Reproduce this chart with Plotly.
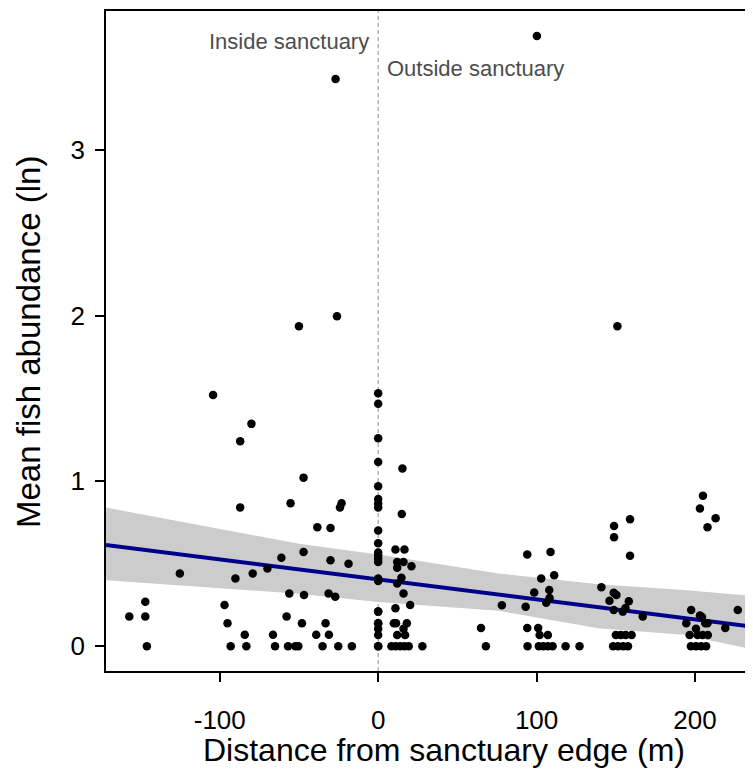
import plotly.graph_objects as go

# ---- data ----
dist_inside = [-104.2, -80.0, -87.1, -47.1, -87.1, -55.3, -23.1, -24.1, -38.4, -30.1,
               -61.1, -47.1, -30.1, -18.7, -125.2, -90.1, -79.2, -69.9, -56.1, -46.8,
               -31.3, -27.1, -147.0, -157.1, -147.0, -97.0, -95.1, -84.2, -66.4, -57.8,
               -48.1, -39.1, -33.2, -31.1,
               -146.0, -93.1, -83.2, -65.1, -56.9, -52.3, -50.4, -35.1, -25.2, -16.6,
               -26.9, -50.0, -26.0]
abund_inside = [1.52, 1.345, 1.24, 1.02, 0.84, 0.865, 0.865, 0.84, 0.72, 0.715,
                0.535, 0.57, 0.52, 0.50, 0.44, 0.41, 0.44, 0.47, 0.32, 0.31,
                0.32, 0.30, 0.27, 0.18, 0.18, 0.25, 0.14, 0.07, 0.07, 0.18,
                0.14, 0.07, 0.14, 0.07,
                0, 0, 0, 0, 0, 0, 0, 0, 0, 0,
                3.43, 1.935, 1.995]

dist_edge = [0] * 24
abund_edge = [1.53, 1.466, 1.258, 1.115, 0.968, 0.891, 0.863, 0.839, 0.700, 0.623,
              0.567, 0.55, 0.53, 0.51, 0.41, 0.395, 0.21, 0.14, 0.107, 0.068,
              0, 0.14, 0.21, 0.0]

dist_near = [15.3, 14.9, 10.9, 16.6, 12.0, 16.0, 12.0, 21.0, 14.7, 12.0,
             16.0, 20.2, 10.9, 9.9, 11.3, 18.1, 16.0, 12.0, 17.0,
             8.4, 11.1, 13.9, 16.6, 19.3, 27.9]
abund_near = [1.075, 0.80, 0.585, 0.585, 0.51, 0.51, 0.475, 0.485, 0.415, 0.38,
              0.32, 0.25, 0.23, 0.14, 0.14, 0.14, 0.107, 0.068, 0.068,
              0, 0, 0, 0, 0, 0]

dist_100 = [64.9, 68.0, 78.1, 94.1, 108.8, 111.1, 102.9, 98.5, 108.0, 108.2,
            106.1, 93.1, 94.1, 101.0, 101.9, 107.1,
            94.3, 101.4, 104.2, 107.1, 110.1, 118.3, 127.1, 100.2]
abund_100 = [0.111, 0, 0.248, 0.555, 0.57, 0.43, 0.41, 0.325, 0.34, 0.292,
             0.264, 0.24, 0.111, 0.111, 0.068, 0.068,
             0, 0, 0, 0, 0, 0, 0, 3.69]

dist_150 = [148.9, 148.9, 159.0, 159.0, 140.9, 148.7, 150.4, 146.0, 158.2, 148.7,
            154.4, 156.1, 167.0, 150.0, 153.1, 156.2, 160.0,
            148.3, 151.4, 154.6, 157.7, 151.0]
abund_150 = [0.728, 0.66, 0.768, 0.548, 0.358, 0.324, 0.31, 0.276, 0.272, 0.22,
             0.21, 0.232, 0.18, 0.068, 0.068, 0.068, 0.068,
             0, 0, 0, 0, 1.935]

dist_200 = [205.0, 203.1, 213.0, 207.9, 197.6, 203.1, 204.4, 194.5, 207.9, 206.5,
            219.1, 227.0, 200.6, 196.6, 201.6, 204.8, 208.1,
            197.4, 200.6, 203.8, 207.0]
abund_200 = [0.91, 0.833, 0.775, 0.72, 0.22, 0.186, 0.178, 0.14, 0.14, 0.14,
             0.111, 0.22, 0.107, 0.068, 0.068, 0.068, 0.068,
             0, 0, 0, 0]

# fitted line and band
fit_x = [-172.5, 237.0]
fit_y = [0.613, 0.118]
band_x = [-172.5, -50, 0, 76, 139, 193, 237.0]
band_upper = [0.84, 0.62, 0.556, 0.44, 0.376, 0.34, 0.305]
band_lower = [0.40, 0.318, 0.268, 0.215, 0.11, 0.07, -0.02]

x_ticks = [-100, 0, 100, 200]
x_tick_text = ["-100", "0", "100", "200"]
y_ticks = [0, 1, 2, 3]

dist = dist_inside + dist_edge + dist_near + dist_100 + dist_150 + dist_200
abund = abund_inside + abund_edge + abund_near + abund_100 + abund_150 + abund_200

fig = go.Figure()
fig.add_trace(go.Scatter(x=band_x + band_x[::-1], y=band_upper + band_lower[::-1],
                         fill="toself", fillcolor="#cccccc", line=dict(width=0),
                         mode="lines", hoverinfo="skip", showlegend=False))
fig.add_trace(go.Scatter(x=fit_x, y=fit_y, mode="lines",
                         line=dict(color="#00008b", width=4), showlegend=False))
fig.add_trace(go.Scatter(x=dist, y=abund, mode="markers",
                         marker=dict(color="black", size=8.5), showlegend=False))

fig.add_shape(type="line", x0=0, x1=0, y0=0, y1=1, yref="paper", xref="x",
              line=dict(color="#a0a0a0", width=1.2, dash="4px,3px"), layer="below")

font_fam = "Liberation Sans, Arial, sans-serif"
fig.add_annotation(x=-4.3, y=3.654, text="Inside sanctuary", showarrow=False,
                   xanchor="right", yanchor="middle",
                   font=dict(size=22, color="#4d4d4d", family=font_fam))
fig.add_annotation(x=4.0, y=3.493, text="Outside sanctuary", showarrow=False,
                   xanchor="left", yanchor="middle",
                   font=dict(size=22, color="#4d4d4d", family=font_fam))

# axis titles placed as annotations in paper coordinates
fig.add_annotation(x=0.5227, y=-0.1197, xref="paper", yref="paper",
                   text="Distance from sanctuary edge (m)", showarrow=False,
                   xanchor="center", yanchor="middle",
                   font=dict(size=32, color="black", family=font_fam))
fig.add_annotation(x=-0.119, y=0.4985, xref="paper", yref="paper",
                   text="Mean fish abundance (ln)", showarrow=False, textangle=-90,
                   xanchor="center", yanchor="middle",
                   font=dict(size=33, color="black", family=font_fam))

# the page body adds an 8px offset; figure size and margins compensate so the
# plot area lands where it is in the reference (left 106, top 11, bottom 671,
# running to the right edge of the window)
fig.update_layout(
    width=745, height=763,
    margin=dict(l=98, r=0, t=3, b=100),
    paper_bgcolor="white", plot_bgcolor="white",
    font=dict(family=font_fam, color="black"),
    xaxis=dict(range=[-171.8, 236.6], tickvals=x_ticks, ticktext=x_tick_text,
               showgrid=False, zeroline=False, automargin=False,
               showline=True, linecolor="black", linewidth=1.5, mirror=True,
               ticks="outside", ticklen=9, tickwidth=1.5, tickcolor="black",
               tickfont=dict(size=26), ticklabelstandoff=16),
    yaxis=dict(range=[-0.149, 3.841], tickvals=y_ticks, showgrid=False, zeroline=False,
               automargin=False,
               showline=True, linecolor="black", linewidth=1.5,
               ticks="outside", ticklen=9, tickwidth=1.5, tickcolor="black",
               tickfont=dict(size=26), ticklabelstandoff=5),
)

fig.write_html("out.html")
